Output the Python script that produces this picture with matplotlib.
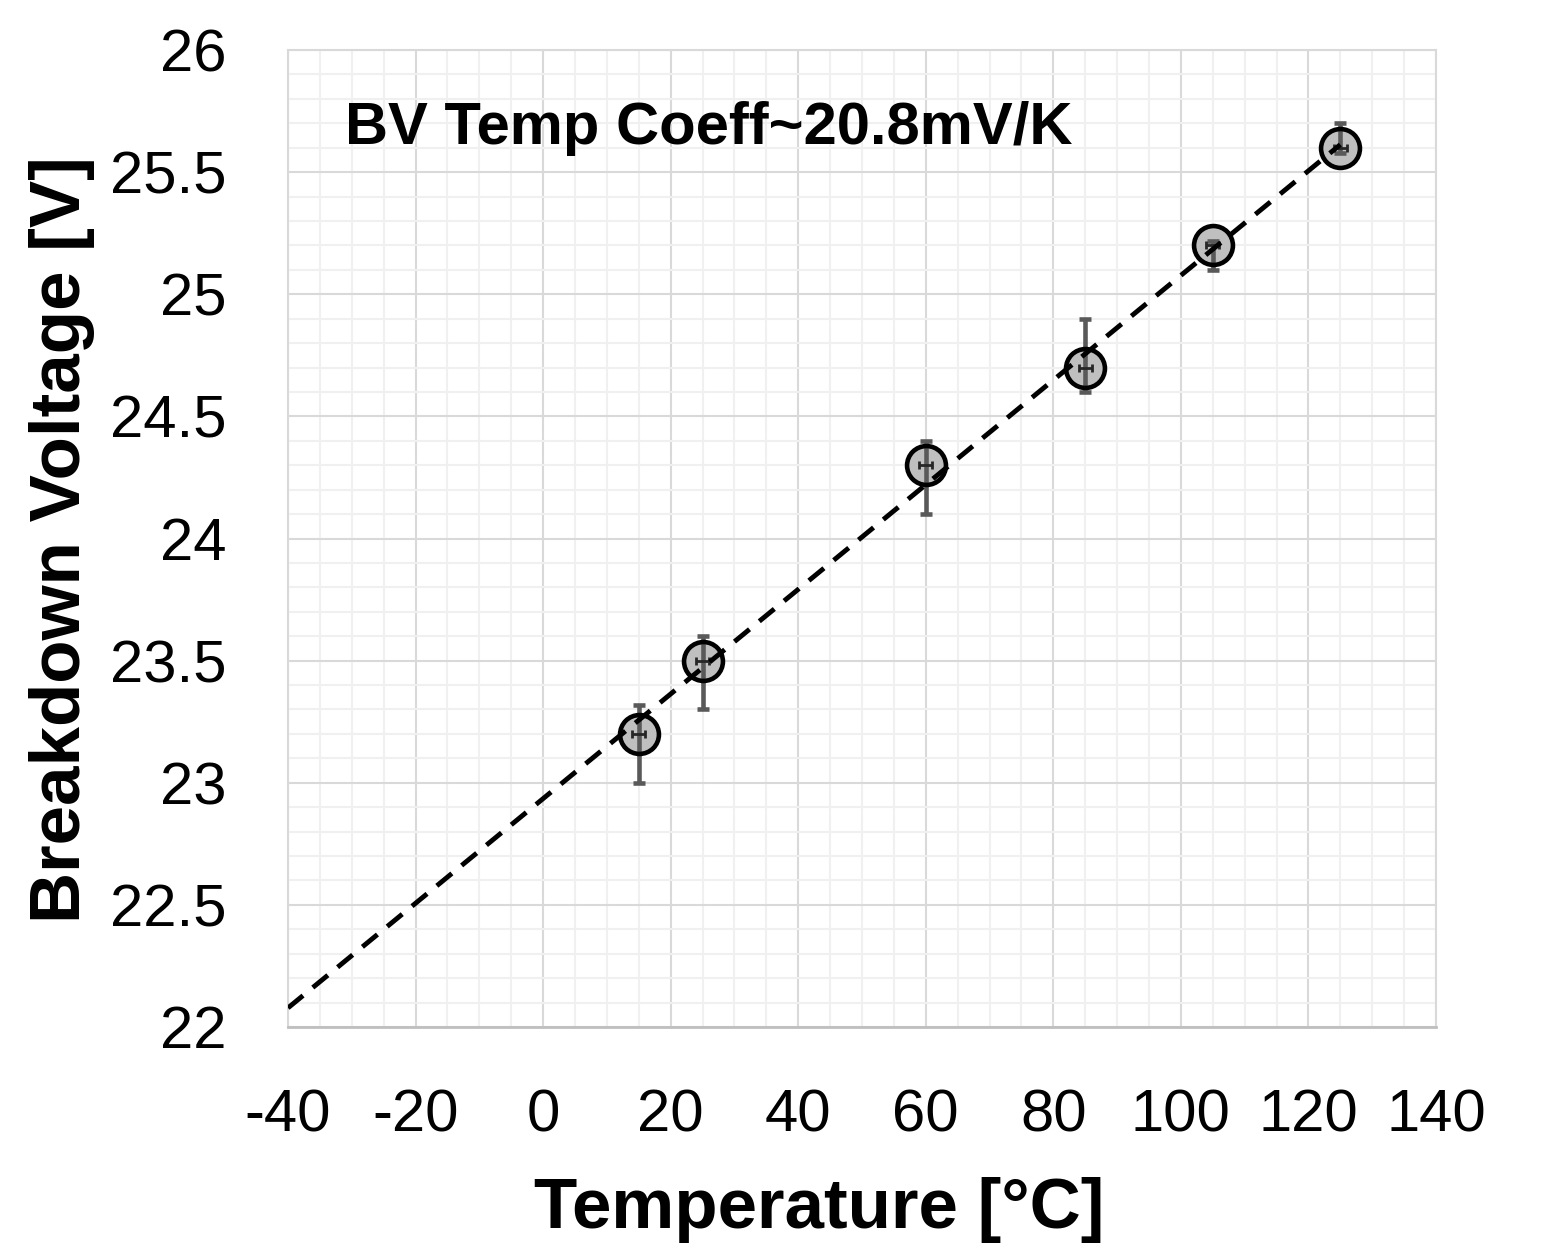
import numpy as np
import matplotlib
matplotlib.use("Agg")
import matplotlib.pyplot as plt
from matplotlib.ticker import MultipleLocator

plt.rcParams['font.family'] = ['Liberation Sans', 'DejaVu Sans']
plt.rcParams['axes.unicode_minus'] = False

# data
temps = [15, 25, 60, 85, 105, 125]
bv = [23.2, 23.5, 24.3, 24.7, 25.2, 25.6]
err_low = [0.2, 0.2, 0.2, 0.1, 0.1, 0.02]
err_high = [0.12, 0.1, 0.1, 0.2, 0.02, 0.1]
xerr = [1, 1, 1, 1, 1, 1]
note = "BV Temp Coeff~20.8mV/K"

fig = plt.figure(figsize=(15.66, 12.52), dpi=100)
ax = fig.add_axes([288/1566, 1-1027/1252, (1436-288)/1566, (1027-50)/1252])

ax.set_xlim(-40, 140)
ax.set_ylim(22, 26)
ax.xaxis.set_major_locator(MultipleLocator(20))
ax.xaxis.set_minor_locator(MultipleLocator(5))
ax.yaxis.set_major_locator(MultipleLocator(0.5))
ax.yaxis.set_minor_locator(MultipleLocator(0.1))
ax.yaxis.set_major_formatter(plt.FuncFormatter(lambda v, p: f"{v:g}"))
ax.grid(which='major', color='#d9d9d9', lw=1.5, zorder=0)
ax.grid(which='minor', color='#f0f0f0', lw=1.5, zorder=0)
ax.set_axisbelow(True)
ax.tick_params(which='both', length=0)
ax.tick_params(axis='y', labelsize=43, pad=44)
ax.tick_params(axis='x', labelsize=43, pad=44)
for s in ['left', 'top', 'right']:
    ax.spines[s].set_color('#d9d9d9')
    ax.spines[s].set_linewidth(1.5)
ax.spines['bottom'].set_color('#bfbfbf')
ax.spines['bottom'].set_linewidth(2)

# linear trendline
k, b = np.polyfit(temps, bv, 1)
xl = np.array([-40, max(temps)])

ax.plot(temps, bv, 'o', ms=28, mfc='#bfbfbf', mec='none', zorder=2)
ax.errorbar(temps, bv, yerr=[err_low, err_high], fmt='none', ecolor='#595959',
            elinewidth=3.3, capsize=4.5, capthick=3.3, zorder=3)
ax.errorbar(temps, bv, xerr=xerr, fmt='none', ecolor='#262626',
            elinewidth=2, capsize=3, capthick=2, zorder=3)
ax.plot(temps, bv, 'o', ms=28, mfc='none', mec='black', mew=3.3, zorder=4)
ax.plot(xl, k*xl + b, color='black', lw=3.5, dashes=(4, 2.6), zorder=5)

ax.text(-31.1, 25.68, note, fontsize=43, fontweight='bold', ha='left', va='center')

fig.text(819/1566, 1-1210/1252, "Temperature [°C]", fontsize=51, fontweight='bold',
         ha='center', va='center')
fig.text(62/1566, 1-540/1252, "Breakdown Voltage [V]", fontsize=51, fontweight='bold',
         ha='center', va='center', rotation=90)

fig.savefig("out.png", dpi=100)
